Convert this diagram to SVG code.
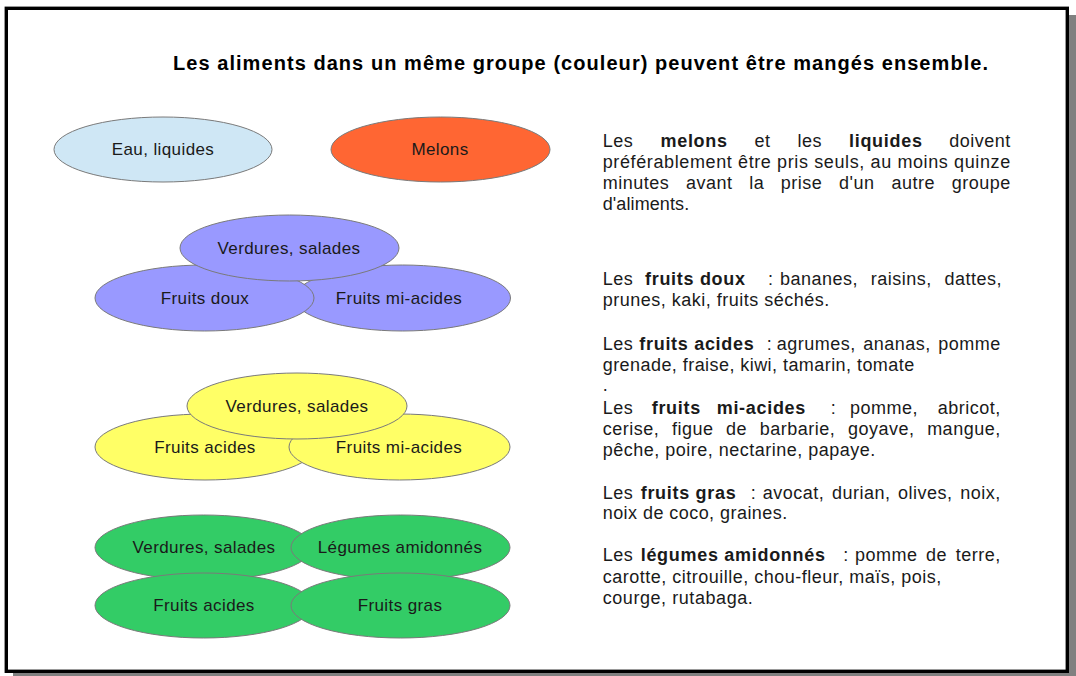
<svg xmlns="http://www.w3.org/2000/svg" width="1076" height="676" viewBox="0 0 1076 676">
<style>
.lbl{font-family:"Liberation Sans",Arial,sans-serif;font-size:17px;letter-spacing:0.4px;fill:#1a1a1a;text-anchor:middle}
.t{font-family:"Liberation Sans",Arial,sans-serif;font-size:18px;letter-spacing:0.5px;fill:#1a1a1a}
.b{font-weight:bold;letter-spacing:0.7px}
.e{text-anchor:end}
.title{font-family:"Liberation Sans",Arial,sans-serif;font-size:20px;font-weight:bold;fill:#000}
ellipse{stroke:#7a7a7a;stroke-width:1}
.lb{fill:#cfe7f5}.or{fill:#ff6633}.bl{fill:#9999ff}.ye{fill:#ffff66}.gr{fill:#33cc66}
</style>
<rect x="0" y="0" width="1076" height="676" fill="#ffffff"/>
<rect x="13" y="15" width="1063" height="661" fill="#808080"/>
<rect x="6.3" y="8.3" width="1061" height="663" fill="#ffffff" stroke="#000" stroke-width="3.4"/>
<text class="title" x="173" y="70" textLength="815" lengthAdjust="spacing">Les aliments dans un même groupe (couleur) peuvent être mangés ensemble.</text>

<g id="eau"><ellipse class="lb" cx="163" cy="149.5" rx="109" ry="32.5"/><text class="lbl" x="163" y="155">Eau, liquides</text></g>
<g id="melons"><ellipse class="or" cx="440.5" cy="149.5" rx="109.5" ry="32.5"/><text class="lbl" x="440" y="155">Melons</text></g>

<g id="blue-mi-acides"><ellipse class="bl" cx="402.5" cy="298" rx="108" ry="33"/><text class="lbl" x="399" y="304">Fruits mi-acides</text></g>
<g id="blue-doux"><ellipse class="bl" cx="204.5" cy="298" rx="109.5" ry="33"/><text class="lbl" x="205" y="304">Fruits doux</text></g>
<g id="blue-verdures"><ellipse class="bl" cx="289.5" cy="248" rx="109.5" ry="33"/><text class="lbl" x="289" y="254">Verdures, salades</text></g>

<g id="yellow-acides"><ellipse class="ye" cx="205" cy="447" rx="110" ry="33"/><text class="lbl" x="205" y="453">Fruits acides</text></g>
<g id="yellow-mi-acides"><ellipse class="ye" cx="399.5" cy="447" rx="110.5" ry="33"/><text class="lbl" x="399" y="453">Fruits mi-acides</text></g>
<g id="yellow-verdures"><ellipse class="ye" cx="297" cy="406" rx="110" ry="33"/><text class="lbl" x="297" y="412">Verdures, salades</text></g>

<g id="green-verdures"><ellipse class="gr" cx="203.5" cy="547.5" rx="108.5" ry="32.5"/><text class="lbl" x="204" y="553">Verdures, salades</text></g>
<g id="green-legumes"><ellipse class="gr" cx="400.5" cy="547.5" rx="109.5" ry="32.5"/><text class="lbl" x="400" y="553">Légumes amidonnés</text></g>
<g id="green-acides"><ellipse class="gr" cx="203.5" cy="605.5" rx="108.5" ry="32.5"/><text class="lbl" x="204" y="611">Fruits acides</text></g>
<g id="green-gras"><ellipse class="gr" cx="400.5" cy="605.5" rx="109.5" ry="32.5"/><text class="lbl" x="400" y="611">Fruits gras</text></g>

<g id="connectors"></g>

<g id="notes">
<text class="t" y="147"><tspan x="602.7">Les</tspan><tspan x="660.5" class="b">melons</tspan><tspan x="754.5">et</tspan><tspan x="797.5">les</tspan><tspan x="849" class="b">liquides</tspan></text>
<text class="t e" x="1010.7" y="147">doivent</text>
<text class="t" x="602.7" y="168" textLength="408" lengthAdjust="spacing">préférablement être pris seuls, au moins quinze</text>
<text class="t" y="189"><tspan x="602.7">minutes</tspan><tspan x="686">avant</tspan><tspan x="749.2">la</tspan><tspan x="780.8">prise</tspan><tspan x="839">d'un</tspan><tspan x="891.5">autre</tspan></text>
<text class="t e" x="1010.7" y="189">groupe</text>
<text class="t" x="602.7" y="210" textLength="87" lengthAdjust="spacing">d'aliments.</text>

<text class="t" y="285"><tspan x="602.7">Les</tspan><tspan x="645" class="b">fruits doux</tspan><tspan x="768">:</tspan><tspan x="780">bananes,</tspan><tspan x="870.8">raisins,</tspan></text>
<text class="t e" x="1002" y="285">dattes,</text>
<text class="t" x="602.7" y="306" textLength="227" lengthAdjust="spacing">prunes, kaki, fruits séchés.</text>

<text class="t" y="350"><tspan x="602.7">Les</tspan><tspan x="639.3" class="b">fruits acides</tspan><tspan x="766.7">:</tspan><tspan x="776.7">agrumes,</tspan><tspan x="863.2">ananas,</tspan></text>
<text class="t e" x="1000.7" y="350">pomme</text>
<text class="t" x="602.7" y="371" textLength="312" lengthAdjust="spacing">grenade, fraise, kiwi, tamarin, tomate</text>
<text class="t" x="602.7" y="391">.</text>

<text class="t" y="414"><tspan x="602.7">Les</tspan><tspan x="651.7" class="b">fruits</tspan><tspan x="716.7" class="b">mi-acides</tspan><tspan x="830.7">:</tspan><tspan x="850">pomme,</tspan></text>
<text class="t e" x="1000.7" y="414">abricot,</text>
<text class="t" y="435"><tspan x="602.7">cerise,</tspan><tspan x="671.9">figue</tspan><tspan x="726.1">de</tspan><tspan x="759.8">barbarie,</tspan><tspan x="848">goyave,</tspan></text>
<text class="t e" x="1000.7" y="435">mangue,</text>
<text class="t" x="602.7" y="456" textLength="273" lengthAdjust="spacing">pêche, poire, nectarine, papaye.</text>

<text class="t" y="498.7"><tspan x="602.7">Les</tspan><tspan x="640.7" class="b">fruits gras</tspan><tspan x="750.7">:</tspan><tspan x="762.7">avocat,</tspan><tspan x="831.9">durian,</tspan><tspan x="898.1">olives,</tspan></text>
<text class="t e" x="1000.7" y="498.7">noix,</text>
<text class="t" x="602.7" y="519" textLength="185" lengthAdjust="spacing">noix de coco, graines.</text>

<text class="t" y="561.3"><tspan x="602.7">Les</tspan><tspan x="640.7" class="b">légumes amidonnés</tspan><tspan x="843.3">:</tspan><tspan x="855">pomme</tspan><tspan x="926.1">de</tspan></text>
<text class="t e" x="1000.7" y="561.3">terre,</text>
<text class="t" x="602.7" y="583" textLength="339" lengthAdjust="spacing">carotte, citrouille, chou-fleur, maïs, pois,</text>
<text class="t" x="602.7" y="604.3" textLength="150.6" lengthAdjust="spacing">courge, rutabaga.</text>
</g>
</svg>
